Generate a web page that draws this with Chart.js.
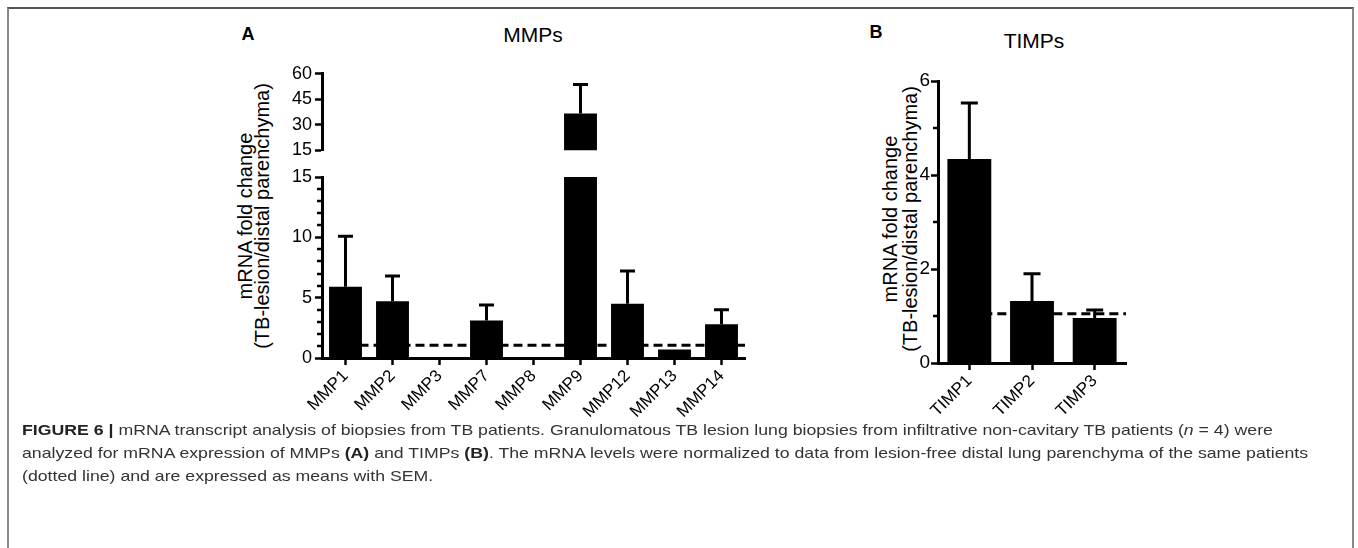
<!DOCTYPE html>
<html>
<head>
<meta charset="utf-8">
<title>Figure 6 - MMP / TIMP mRNA</title>
<script src="https://cdn.jsdelivr.net/npm/chart.js@4.4.1/dist/chart.umd.min.js"></script>
<style>
  html, body { margin: 0; padding: 0; background: #fff; }
  body { width: 1358px; height: 548px; position: relative; overflow: hidden;
         font-family: 'Liberation Sans', Arial, sans-serif; color: #000; }
  #frame { position: absolute; left: 7px; top: 7px; width: 1343px; height: 620px;
           border-top: 2px solid #555; border-left: 2px solid #8a8a8a; border-right: 2px solid #8a8a8a; }
  canvas { position: absolute; }
  .center { position: absolute; transform: translate(-50%, -50%); white-space: nowrap; }
  .letter { font-weight: bold; font-size: 18px; }
  .ptitle { font-size: 21px; }
  .ytitle { position: absolute; white-space: nowrap; text-align: center;
            transform: translate(-50%, -50%) rotate(-90deg); }
  /* the figure is a little wider than tall, so stretch the caption the same way */
  #caption { position: absolute; left: 22px; top: 418px; font-size: 15px; line-height: 23px;
             color: #333; white-space: nowrap; transform: scaleX(1.18); transform-origin: 0 0; }
  #caption b { color: #222; }
</style>
</head>
<body>
<div id="frame"></div>

<div class="center letter" style="left:248px; top:34px;">A</div>
<div class="center ptitle" style="left:533px; top:35px;">MMPs</div>
<div class="ytitle" style="left:254px; top:216px; font-size:20px; line-height:17px;">mRNA fold change<br>(TB-lesion/distal parenchyma)</div>
<canvas id="mmpUpper" width="540" height="104" style="left:222px; top:60px;"></canvas>
<canvas id="mmpLower" width="540" height="258" style="left:222px; top:160px;"></canvas>

<div class="center letter" style="left:876px; top:32px;">B</div>
<div class="center ptitle" style="left:1034px; top:41px;">TIMPs</div>
<div class="ytitle" style="left:900px; top:219px; font-size:20px; line-height:20px;">mRNA fold change<br>(TB-lesion/distal parenchyma)</div>
<canvas id="timp" width="310" height="360" style="left:840px; top:60px;"></canvas>

<div id="caption">
  <div><b>FIGURE 6 |</b> mRNA transcript analysis of biopsies from TB patients. Granulomatous TB lesion lung biopsies from infiltrative non-cavitary TB patients (<i>n</i> = 4) were</div>
  <div>analyzed for mRNA expression of MMPs <b>(A)</b> and TIMPs <b>(B)</b>. The mRNA levels were normalized to data from lesion-free distal lung parenchyma of the same patients</div>
  <div>(dotted line) and are expressed as means with SEM.</div>
</div>

<script>
// ---- data ----
const mmpLabels = ['MMP1', 'MMP2', 'MMP3', 'MMP7', 'MMP8', 'MMP9', 'MMP12', 'MMP13', 'MMP14'];
const mmpMean   = [5.9, 4.7, 0, 3.1, 0, 36.6, 4.5, 0.7, 2.8];
const mmpSem    = [4.2, 2.1, 0, 1.3, 0, 17.1, 2.7, 0, 1.2];

const timpLabels = ['TIMP1', 'TIMP2', 'TIMP3'];
const timpMean   = [4.34, 1.32, 0.96];
const timpSem    = [1.19, 0.58, 0.17];

// dotted reference line (distal parenchyma level)
const normLevel = 1.05;

// tick labels
const mmpUpperTicks = [15, 30, 45, 60];
const mmpLowerTicks = [0, 5, 10, 15];
const timpTicks     = [0, 2, 4, 6];

Chart.defaults.font.family = "'Liberation Sans', Arial, sans-serif";
Chart.defaults.color = '#000';

// ---- plugins ----
// SEM error bars (upper whisker only), drawn from dataset.sem via the y scale
const errorBars = {
    id: 'errorBars',
    afterDatasetsDraw(chart, args, opts) {
        const { ctx, chartArea } = chart;
        ctx.save();
        ctx.beginPath();
        ctx.rect(chartArea.left, chartArea.top - 3, chartArea.right - chartArea.left, chartArea.bottom - chartArea.top + 3);
        ctx.clip();
        ctx.strokeStyle = '#000';
        ctx.lineWidth = opts.width || 3;
        chart.data.datasets.forEach((ds, di) => {
            if (!ds.sem) return;
            const meta = chart.getDatasetMeta(di);
            const y = chart.scales[meta.yAxisID];
            meta.data.forEach((bar, i) => {
                const err = ds.sem[i];
                if (!err) return;
                const yMean = y.getPixelForValue(ds.data[i]);
                const yTop = y.getPixelForValue(ds.data[i] + err);
                const half = (opts.cap || 14) / 2;
                ctx.beginPath();
                ctx.moveTo(bar.x, yMean);
                ctx.lineTo(bar.x, yTop);
                ctx.moveTo(bar.x - half, yTop);
                ctx.lineTo(bar.x + half, yTop);
                ctx.stroke();
            });
        });
        ctx.restore();
    }
};

// dashed normalisation line, drawn under the bars
const normLine = {
    id: 'normLine',
    beforeDatasetsDraw(chart, args, opts) {
        if (opts.value == null) return;
        const { ctx, chartArea, scales: { x, y } } = chart;
        const py = y.getPixelForValue(opts.value);
        if (py < chartArea.top || py > chartArea.bottom) return;
        ctx.save();
        ctx.setLineDash([9, 5]);
        ctx.lineWidth = 3;
        ctx.strokeStyle = '#000';
        ctx.beginPath();
        ctx.moveTo(x.getPixelForValue(0), py);
        ctx.lineTo(chartArea.right, py);
        ctx.stroke();
        ctx.restore();
    }
};

// short unlabeled ticks between the major ones
const minorTicks = {
    id: 'minorTicks',
    afterDraw(chart, args, opts) {
        if (!opts.step) return;
        const { ctx, chartArea, scales: { y } } = chart;
        ctx.save();
        ctx.strokeStyle = '#000';
        ctx.lineWidth = 2.5;
        for (let v = y.min; v <= y.max; v += opts.step) {
            if (y.ticks.some(t => t.value === v)) continue;
            const py = Math.round(y.getPixelForValue(v));
            ctx.beginPath();
            ctx.moveTo(chartArea.left - 5, py);
            ctx.lineTo(chartArea.left, py);
            ctx.stroke();
        }
        ctx.restore();
    }
};

// ---- shared scale helpers ----
function xAxis(show, height, fontSize) {
    return {
        display: show,
        offset: true,
        grid: { display: true, drawOnChartArea: false, offset: false, tickLength: 7, tickWidth: 2.5, tickColor: '#000' },
        border: { display: true, color: '#000', width: 3 },
        ticks: { autoSkip: false, minRotation: 45, maxRotation: 45, padding: 1, font: { size: fontSize } },
        afterFit: s => { s.height = height; }
    };
}

function yAxis(min, max, tickValues, width, fontSize, pad) {
    return {
        min, max,
        grid: { display: true, drawOnChartArea: false, tickLength: 7, tickWidth: 2.5, tickColor: '#000' },
        border: { display: true, color: '#000', width: 3 },
        ticks: { padding: pad, font: { size: fontSize } },
        afterBuildTicks: s => { s.ticks = tickValues.map(v => ({ value: v })); },
        afterFit: s => { s.width = width; }
    };
}

function barChart(id, labels, mean, sem, opts) {
    return new Chart(document.getElementById(id), {
        type: 'bar',
        data: {
            labels,
            datasets: [{
                data: mean,
                sem,
                backgroundColor: '#000',
                borderWidth: 0,
                barPercentage: 0.7,
                categoryPercentage: 1,
                clip: 0
            }]
        },
        options: {
            responsive: false,
            animation: false,
            devicePixelRatio: 1,
            layout: { padding: opts.padding },
            scales: { x: opts.x, y: opts.y },
            plugins: {
                legend: { display: false },
                tooltip: { enabled: false },
                errorBars: { width: 3, cap: opts.cap },
                normLine: { value: opts.norm },
                minorTicks: { step: opts.minor }
            }
        },
        plugins: [normLine, errorBars, minorTicks]
    });
}

// ---- Panel A: MMPs (broken y axis -> two stacked charts) ----
barChart('mmpUpper', mmpLabels, mmpMean, mmpSem, {
    padding: { top: 13, right: 17, bottom: 12, left: 0 },
    x: xAxis(false, 0, 17),
    y: yAxis(15, 60, mmpUpperTicks, 100, 18, 3),
    cap: 15,
    norm: null,
    minor: 0
});

barChart('mmpLower', mmpLabels, mmpMean, mmpSem, {
    padding: { top: 17, right: 17, bottom: 0, left: 0 },
    x: xAxis(true, 60, 17),
    y: yAxis(0, 15, mmpLowerTicks, 100, 18, 3),
    cap: 15,
    norm: normLevel,
    minor: 1
});

// ---- Panel B: TIMPs ----
barChart('timp', timpLabels, timpMean, timpSem, {
    padding: { top: 21, right: 24, bottom: 0, left: 0 },
    x: xAxis(true, 57, 17),
    y: yAxis(0, 6, timpTicks, 98, 19, 1),
    cap: 17,
    norm: normLevel,
    minor: 1
});
</script>
</body>
</html>
